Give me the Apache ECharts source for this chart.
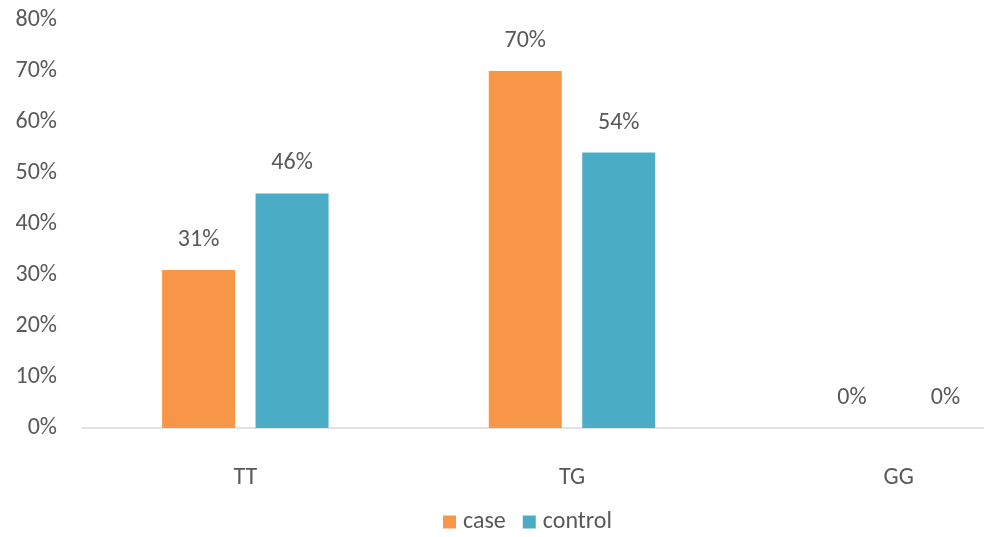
<!DOCTYPE html>
<html>
<head>
<meta charset="utf-8">
<script src="https://cdn.jsdelivr.net/npm/echarts@6/dist/echarts.min.js"></script>
<style>
  html, body { margin: 0; padding: 0; background: #fff; }
  #chart { width: 984px; height: 537px; }
</style>
</head>
<body>
<div id="chart"></div>
<script>
// Genotype frequency (%) per group
const genotypes = ['TT', 'TG', 'GG'];
const caseValues = [31, 70, 0];
const controlValues = [46, 54, 0];
const yTicks = [0, 10, 20, 30, 40, 50, 60, 70, 80];

const FONT = 'Carlito, "Liberation Sans Narrow", "Noto Sans", sans-serif';
const TEXT = '#595959';

const chart = echarts.init(document.getElementById('chart'), null, { renderer: 'canvas' });

const labelStyle = {
  show: true,
  position: 'top',
  distance: 18,
  formatter: p => p.value + '%',
  color: TEXT,
  fontFamily: FONT,
  fontSize: 24
};

chart.setOption({
  animation: false,
  backgroundColor: '#ffffff',
  // the plot area runs past the right edge, so the last category is partly cut off
  grid: { left: 82, width: 980, top: 20, height: 408, containLabel: false, outerBoundsMode: 'none' },
  legend: {
    data: ['case', 'control'],
    top: 510,
    left: 443,
    padding: 0,
    itemWidth: 13,
    itemHeight: 13,
    itemGap: 17,
    icon: 'rect',
    textStyle: { color: TEXT, fontFamily: FONT, fontSize: 24, padding: [0, 0, 0, 2] }
  },
  xAxis: {
    type: 'category',
    data: genotypes,
    axisLine: { lineStyle: { color: '#d9d9d9', width: 1.5 } },
    axisTick: { show: false },
    axisLabel: { color: TEXT, fontFamily: FONT, fontSize: 24, margin: 38 }
  },
  yAxis: {
    type: 'value',
    min: yTicks[0],
    max: yTicks[yTicks.length - 1],
    interval: 10,
    axisLine: { show: false },
    axisTick: { show: false },
    splitLine: { show: false },
    axisLabel: { color: TEXT, fontFamily: FONT, fontSize: 24, margin: 25, formatter: v => v + '%' }
  },
  series: [
    {
      name: 'case',
      type: 'bar',
      data: caseValues,
      barWidth: 73,
      barGap: '28%',
      itemStyle: { color: '#F79646' },
      label: labelStyle
    },
    {
      name: 'control',
      type: 'bar',
      data: controlValues,
      barWidth: 73,
      itemStyle: { color: '#4BACC6' },
      label: labelStyle
    }
  ]
});
</script>
</body>
</html>
